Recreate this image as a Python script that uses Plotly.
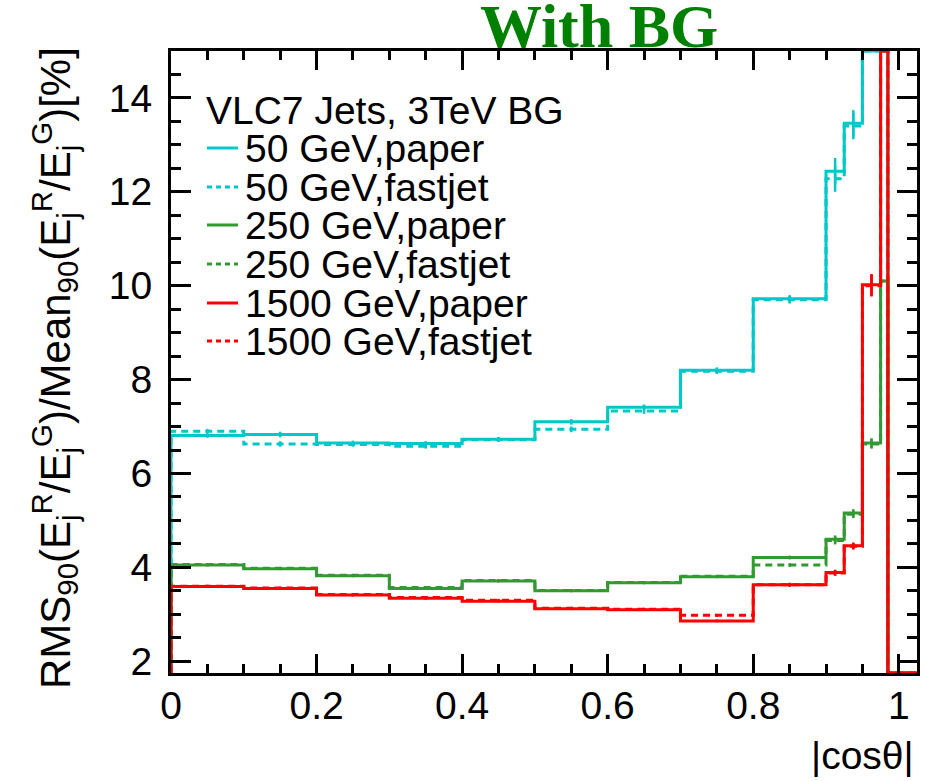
import numpy as np
import plotly.graph_objects as go

# ---------------- data ----------------
bin_edges = [0.0, 0.1, 0.2, 0.3, 0.4, 0.5, 0.6, 0.7, 0.8, 0.9, 0.925, 0.95, 0.975, 0.985, 1.025]

rms_50_paper    = [6.81, 6.83, 6.65, 6.64, 6.73, 7.10, 7.41, 8.20, 9.72, 12.44, 13.46, 25.0, 25.0, 0.0]
rms_50_fastjet  = [6.90, 6.63, 6.62, 6.58, 6.72, 6.94, 7.33, 8.18, 9.70, 12.28, 13.40, 25.0, 25.0, 0.0]
rms_250_paper   = [4.05, 3.97, 3.82, 3.55, 3.71, 3.50, 3.67, 3.80, 4.21, 4.60, 5.16, 6.65, 10.10, 0.0]
rms_250_fastjet = [4.06, 3.98, 3.83, 3.57, 3.72, 3.51, 3.68, 3.81, 4.05, 4.57, 5.13, 6.63, 10.10, 0.0]
rms_1500_paper  = [3.59, 3.55, 3.41, 3.34, 3.28, 3.12, 3.10, 2.86, 3.63, 3.89, 4.46, 10.02, 25.0, 0.0]
rms_1500_fastjet= [3.60, 3.56, 3.42, 3.36, 3.30, 3.13, 3.11, 2.98, 3.63, 3.88, 4.45, 10.00, 25.0, 0.0]

err_50_paper    = [0.05, 0.06, 0.05, 0.05, 0.05, 0.06, 0.06, 0.06, 0.08, 0.28, 0.28, 0, 0, 0]
err_50_fastjet  = [0.05, 0.06, 0.05, 0.05, 0.05, 0.06, 0.06, 0.06, 0.08, 0.28, 0.28, 0, 0, 0]
err_250_paper   = [0.03, 0.03, 0.03, 0.03, 0.03, 0.03, 0.03, 0.03, 0.04, 0.08, 0.08, 0.10, 0, 0]
err_250_fastjet = [0.03, 0.03, 0.03, 0.03, 0.03, 0.03, 0.03, 0.03, 0.04, 0.08, 0.08, 0.10, 0, 0]
err_1500_paper  = [0.03, 0.03, 0.03, 0.03, 0.03, 0.03, 0.03, 0.03, 0.04, 0.06, 0.07, 0.23, 0, 0]
err_1500_fastjet= [0.03, 0.03, 0.03, 0.03, 0.03, 0.03, 0.03, 0.03, 0.04, 0.06, 0.07, 0.23, 0, 0]

legend_header = "VLC7 Jets, 3TeV BG"
series_names = ["50 GeV,paper", "50 GeV,fastjet", "250 GeV,paper",
                "250 GeV,fastjet", "1500 GeV,paper", "1500 GeV,fastjet"]

x_tick_vals = [0, 0.2, 0.4, 0.6, 0.8, 1.0]
x_tick_text = ["0", "0.2", "0.4", "0.6", "0.8", "1"]
y_tick_vals = [2, 4, 6, 8, 10, 12, 14]
y_tick_text = ["2", "4", "6", "8", "10", "12", "14"]

# ---------------- style ----------------
CYAN = "#00c8c8"
GREEN = "#339933"
RED = "#ff0000"
DASH = "7px,5px"
YMIN, YMAX = 1.75, 15.0
XMIN, XMAX = 0.0, 1.025
W, H = 926, 781
ML, MR, MT, MB = 171, 9, 51, 108
FONT = "Liberation Sans"

series = [
    (rms_50_paper, err_50_paper, CYAN, "solid"),
    (rms_50_fastjet, err_50_fastjet, CYAN, DASH),
    (rms_250_paper, err_250_paper, GREEN, "solid"),
    (rms_250_fastjet, err_250_fastjet, GREEN, DASH),
    (rms_1500_paper, err_1500_paper, RED, "solid"),
    (rms_1500_fastjet, err_1500_fastjet, RED, DASH),
]

fig = go.Figure()
edges = np.array(bin_edges)
centers = 0.5 * (edges[:-1] + edges[1:])

for vals, errs, col, dash in series:
    v = np.clip(np.array(vals, dtype=float), YMIN, YMAX)
    xs = [edges[0]] + list(edges[:-1]) + [edges[-1], edges[-1]]
    ys = [YMIN] + list(v) + [v[-1], YMIN]
    fig.add_trace(go.Scatter(x=xs, y=ys, mode="lines", line_shape="hv",
                             line=dict(color=col, width=3, dash=dash),
                             showlegend=False, hoverinfo="skip"))
    raw = np.array(vals, dtype=float)
    e = np.array(errs, dtype=float)
    mask = (e > 0) & (raw > YMIN) & (raw < YMAX)
    fig.add_trace(go.Scatter(x=centers[mask], y=raw[mask], mode="markers",
                             marker=dict(size=1, color=col),
                             error_y=dict(type="data", array=e[mask], color=col,
                                          thickness=2.5, width=0),
                             showlegend=False, hoverinfo="skip"))

# ---------------- pixel helpers for legend / labels ----------------
PW = W - ML - MR
PH = H - MT - MB
def px(xp):
    return (xp - ML) / PW
def py(yp):
    return (H - MB - yp) / PH

# legend
fig.add_annotation(x=px(204), y=py(110), xref="paper", yref="paper",
                   text=legend_header, showarrow=False, xanchor="left", yanchor="middle",
                   font=dict(family=FONT, size=39, color="black"))
row_y = [148, 187, 225, 264, 303, 341]
for (vals, errs, col, dash), name, ry in zip(series, series_names, row_y):
    fig.add_shape(type="line", xref="paper", yref="paper",
                  x0=px(207), x1=px(238), y0=py(ry), y1=py(ry),
                  line=dict(color=col, width=3, dash=("solid" if dash == "solid" else "5px,4px")))
    fig.add_annotation(x=px(243), y=py(ry), xref="paper", yref="paper",
                       text=name, showarrow=False, xanchor="left", yanchor="middle",
                       font=dict(family=FONT, size=39, color="black"))

# title
fig.add_annotation(x=px(599), y=py(26), xref="paper", yref="paper",
                   text="<b>With BG</b>", showarrow=False, xanchor="center", yanchor="middle",
                   font=dict(family="Liberation Serif", size=62, color="#008000"))

# x axis title
fig.add_annotation(x=px(916), y=py(755), xref="paper", yref="paper",
                   text="|cosθ|", showarrow=False, xanchor="right", yanchor="middle",
                   font=dict(family=FONT, size=39, color="black"))

# y axis title
fig.add_annotation(x=px(54), y=py(368), xref="paper", yref="paper", textangle=-90,
                   text="RMS<sub>90</sub>(E<sub>j</sub><sup>R</sup>/E<sub>j</sub><sup>G</sup>)/Mean<sub>90</sub>(E<sub>j</sub><sup>R</sup>/E<sub>j</sub><sup>G</sup>)[%]",
                   showarrow=False, xanchor="center", yanchor="middle",
                   font=dict(family=FONT, size=42, color="black"))

axis_common = dict(showgrid=False, zeroline=False, showline=True, linecolor="black",
                   linewidth=3, mirror="allticks", ticks="inside", tickcolor="black",
                   tickwidth=2.5, tickfont=dict(family=FONT, size=39, color="black"))

fig.update_xaxes(range=[XMIN, XMAX], tickvals=x_tick_vals, ticktext=x_tick_text, ticklen=19,
                 ticklabelstandoff=-4,
                 minor=dict(dtick=0.05, tick0=0, ticklen=9, ticks="inside", tickwidth=2.5,
                            tickcolor="black", showgrid=False),
                 **axis_common)
fig.update_yaxes(range=[YMIN, YMAX], tickvals=y_tick_vals, ticktext=y_tick_text, ticklen=20,
                 ticklabelstandoff=8,
                 minor=dict(dtick=0.5, tick0=0, ticklen=10, ticks="inside", tickwidth=2.5,
                            tickcolor="black", showgrid=False),
                 **axis_common)

fig.update_layout(width=W, height=H, margin=dict(l=ML, r=MR, t=MT, b=MB, autoexpand=False),
                  plot_bgcolor="white", paper_bgcolor="white", showlegend=False,
                  font=dict(family=FONT, color="black"))

fig.write_html("out.html")
